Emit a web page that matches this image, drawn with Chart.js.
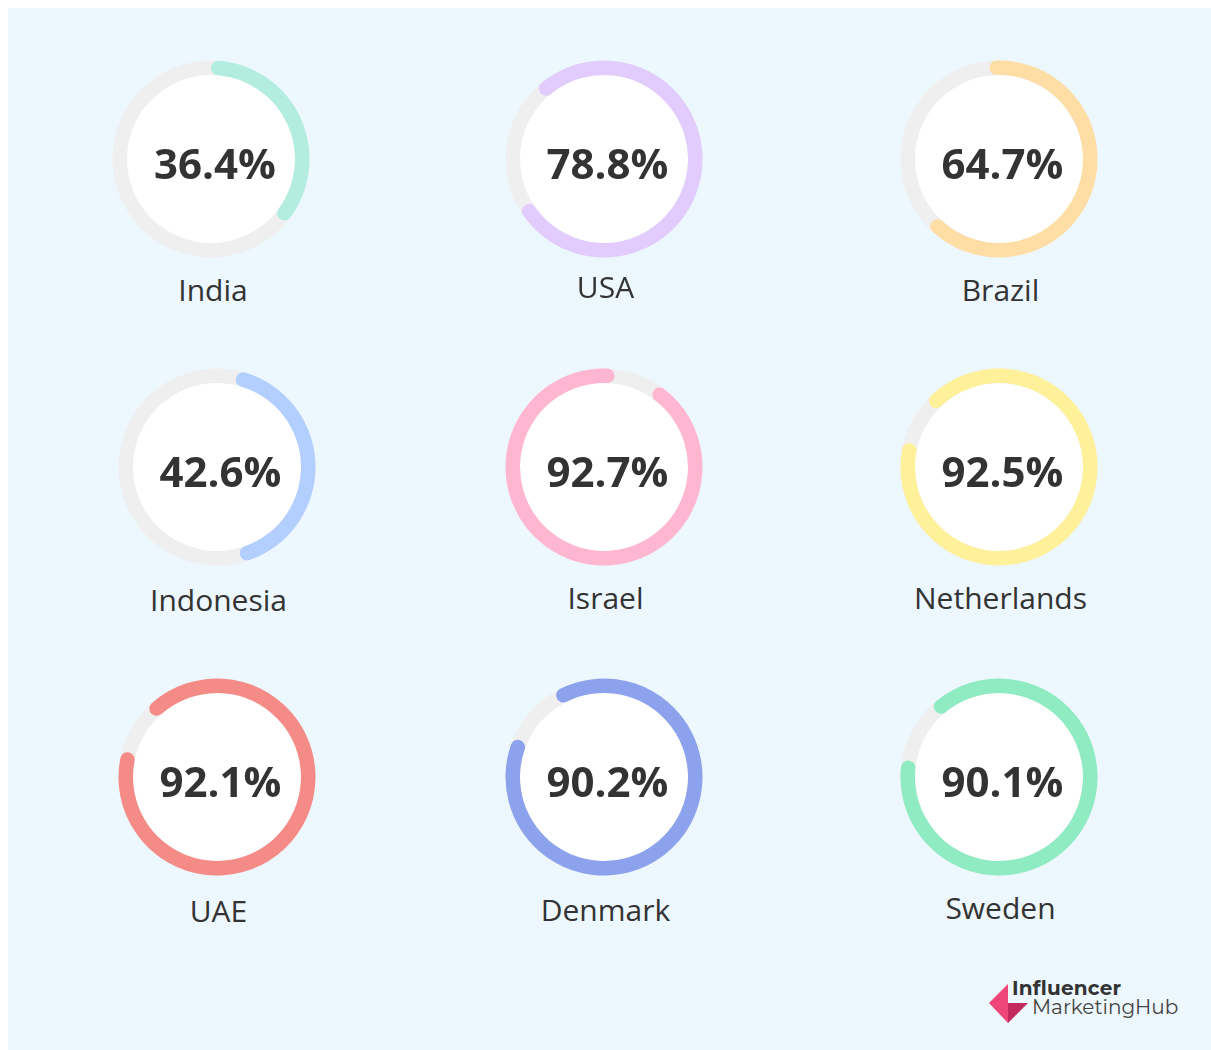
<!DOCTYPE html>
<html><head><meta charset="utf-8">
<script src="https://cdn.jsdelivr.net/npm/chart.js@4/dist/chart.umd.min.js"></script>
<style>
html,body{margin:0;padding:0;background:#fff;}
body{width:1211px;height:1050px;position:relative;overflow:hidden;font-family:"Open Sans","Noto Sans",sans-serif;}
#panel{position:absolute;left:8px;top:8px;width:1203px;height:1042px;background:#EDF7FE;}
canvas.g{position:absolute;}
.pct{position:absolute;font-weight:700;font-size:42px;color:#333;transform:translate(-50%,-50%);line-height:1;white-space:nowrap;}
.lbl{position:absolute;font-size:30px;color:#333;transform:translate(-50%,-50%);line-height:1;white-space:nowrap;}
#logo{position:absolute;left:988px;top:980px;}
#logo .t1{position:absolute;left:24px;top:-4px;font-family:"Montserrat","Inter",sans-serif;font-weight:700;font-size:20px;color:#333;white-space:nowrap;letter-spacing:0.2px;}
#logo .t2{position:absolute;left:44px;top:15px;font-family:"Montserrat","Inter",sans-serif;font-weight:400;font-size:20px;color:#444;white-space:nowrap;letter-spacing:0px;}
</style></head>
<body>
<div id="panel"></div>
<div id="root"></div>
<div id="logo">
<svg width="42" height="42" style="position:absolute;left:0;top:2px" viewBox="0 0 42 42">
<polygon points="1,21 20,2 20,41" fill="#EE4677"/>
<polygon points="20,21 40,21 20,41" fill="#C42A5E"/>
</svg>
<div class="t1">Influencer</div>
<div class="t2">MarketingHub</div>
</div>
<script>
// ---- data ----
const countries = ['India','USA','Brazil','Indonesia','Israel','Netherlands','UAE','Denmark','Sweden'];
const shares = [36.4, 78.8, 64.7, 42.6, 92.7, 92.5, 92.1, 90.2, 90.1];

// ---- styles / layout ----
const arcColors = ['#B3EDE0','#E2CCFD','#FFDEA6','#B3CFFF','#FFB6D0','#FFF09A','#F48B86','#8CA2EC','#8EEBC2'];
const startAngles = [0, -44, -6, 12, 33, -48, -46, -31, -44];
const centers = [[211,158.5],[603.5,158.5],[998.5,158.5],[216.5,466.5],[603.5,466.5],[998.5,466.5],[216.5,776.5],[603.5,776.5],[998.5,776.5]];
const labelYs = [291,287.5,291,601,599,599,912,911,909];
const OUTER = 98.5, INNER = 84;

const trackPlugin = {
  id:'track',
  beforeDatasetsDraw(chart){
    const a = chart.getDatasetMeta(0).data[0];
    const p = a.getProps(['x','y','innerRadius','outerRadius'], true);
    const ctx = chart.ctx;
    ctx.save();
    ctx.beginPath(); ctx.arc(p.x,p.y,p.outerRadius,0,Math.PI*2); ctx.fillStyle='#EFEFEF'; ctx.fill();
    ctx.beginPath(); ctx.arc(p.x,p.y,p.innerRadius,0,Math.PI*2); ctx.fillStyle='#FFFFFF'; ctx.fill();
    ctx.restore();
  }
};

const root = document.getElementById('root');
const S = 220;
countries.forEach((c,i)=>{
  const [cx,cy] = centers[i];
  const cv = document.createElement('canvas');
  cv.className='g'; cv.width=S; cv.height=S;
  cv.style.left=(cx-S/2)+'px'; cv.style.top=(cy-S/2)+'px';
  root.appendChild(cv);
  new Chart(cv,{
    type:'doughnut',
    data:{labels:[c,''],datasets:[{
      data:[shares[i],100-shares[i]],
      backgroundColor:[arcColors[i],'rgba(0,0,0,0)'],
      borderWidth:0,
      borderRadius:(ctx)=>ctx.dataIndex===0?20:0,
      hoverOffset:0
    }]},
    options:{
      responsive:false, animation:false, events:[],
      radius:OUTER, cutout:(INNER/OUTER*100)+'%', rotation:startAngles[i],
      layout:{padding:0},
      plugins:{legend:{display:false},tooltip:{enabled:false}}
    },
    plugins:[trackPlugin]
  });
  const pct=document.createElement('div');
  pct.className='pct'; pct.textContent=shares[i].toFixed(1)+'%';
  pct.style.left=(cx+4)+'px'; pct.style.top=(cy+4)+'px';
  root.appendChild(pct);
  const lb=document.createElement('div');
  lb.className='lbl'; lb.textContent=c;
  lb.style.left=(cx+2)+'px'; lb.style.top=(labelYs[i]-1)+'px';
  root.appendChild(lb);
});
</script>
</body></html>
